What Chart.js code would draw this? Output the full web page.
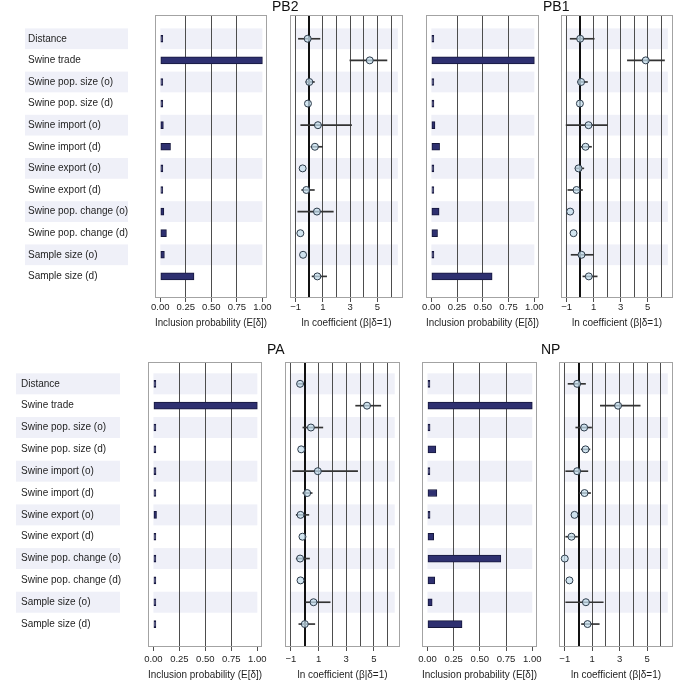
<!DOCTYPE html>
<html>
<head>
<meta charset="utf-8">
<title>Inclusion probabilities and coefficients</title>
<script src="https://cdn.jsdelivr.net/npm/chart.js@4.4.1/dist/chart.umd.min.js"></script>
<style>
    html, body { margin: 0; padding: 0; background: #fff; overflow: hidden; }
    #fig { position: relative; width: 685px; height: 681px; }
    #fig canvas { position: absolute; }
</style>
</head>
<body>
<div id="fig"></div>
<script>
// ---- data ----
const predictors = [
    'Distance', 'Swine trade', 'Swine pop. size (o)', 'Swine pop. size (d)',
    'Swine import (o)', 'Swine import (d)', 'Swine export (o)', 'Swine export (d)',
    'Swine pop. change (o)', 'Swine pop. change (d)', 'Sample size (o)', 'Sample size (d)'
];
const segments = ['PB2', 'PB1', 'PA', 'NP'];

const probTicks = [0, 0.25, 0.5, 0.75, 1];
const coefGrid = [-1, 0, 1, 2, 3, 4, 5, 6];
const coefLabels = [-1, 1, 3, 5];

// inclusion probability E[delta]
const pb2Prob = [0.02, 1.0, 0.01, 0.01, 0.03, 0.10, 0.025, 0.02, 0.035, 0.06, 0.04, 0.33];
const pb1Prob = [0.02, 1.0, 0.01, 0.025, 0.035, 0.08, 0.02, 0.01, 0.075, 0.06, 0.025, 0.59];
const paProb  = [0.015, 1.0, 0.02, 0.01, 0.025, 0.02, 0.03, 0.01, 0.015, 0.008, 0.02, 0.012];
const npProb  = [0.02, 1.0, 0.025, 0.08, 0.01, 0.09, 0.025, 0.06, 0.70, 0.07, 0.045, 0.33];

// ln coefficient (beta | delta = 1), mean and interval
const pb2Coef = [-0.12, 4.44, 0.0, -0.1, 0.63, 0.41, -0.49, -0.22, 0.56, -0.66, -0.46, 0.59];
const pb2Low  = [-0.8, 2.98, -0.25, null, -0.63, 0.12, null, -0.56, -0.85, null, null, 0.2];
const pb2High = [0.78, 5.7, 0.37, null, 3.1, 0.98, null, 0.37, 1.76, null, null, 1.27];

const pb1Coef = [0.0, 4.86, 0.07, -0.02, 0.62, 0.4, -0.12, -0.27, -0.74, -0.49, 0.1, 0.64];
const pb1Low  = [-0.74, 3.5, -0.17, null, -1.04, 0.0, -0.37, -0.91, null, null, -0.67, 0.2];
const pb1High = [1.04, 6.25, 0.54, null, 2.02, 0.84, 0.27, 0.17, null, null, 0.99, 1.26];

const paCoef = [-0.33, 4.5, 0.45, -0.25, 0.95, 0.18, -0.3, -0.16, -0.33, -0.3, 0.64, 0.01];
const paLow  = [-0.5, 3.68, -0.13, null, -0.86, -0.13, -0.61, null, -0.61, null, 0.0, -0.42];
const paHigh = [0.0, 5.49, 1.31, null, 3.82, 0.54, 0.3, null, 0.35, null, 1.84, 0.73];

const npCoef = [-0.1, 2.88, 0.41, 0.51, -0.1, 0.44, -0.29, -0.51, -1.0, -0.66, 0.54, 0.66];
const npLow  = [-0.76, 1.59, -0.2, 0.2, -0.93, 0.07, null, -0.93, null, null, -0.93, 0.22];
const npHigh = [0.51, 4.49, 0.95, 0.83, 0.68, 0.88, null, 0.0, null, null, 1.8, 1.51];

// ---- styling / layout ----
const BAR = '#2e3070';
const BAR_EDGE = '#16173c';
const BAND = '#eff0f8';
const GRID = '#4d4d4d';
const BOX = '#a3a3a3';
const TEXT = '#1e1e1e';
const CLEAR = 'rgba(0,0,0,0)';

Chart.defaults.font.family = "'Liberation Sans', Arial, Helvetica, sans-serif";

const rows = [
    { top: 0, boxTop: 15, boxBottom: 298, axisH: 31, tickPad: 0, yMin: -1.1, yMax: 12.0,
      textLeft: 28, labelBand: [25, 128] },
    { top: 343, boxTop: 362, boxBottom: 647, axisH: 34, tickPad: 3, yMin: -1.0, yMax: 12.05,
      textLeft: 21, labelBand: [16, 120] }
];

const panels = [
    { row: 0, labels: true,  prob: pb2Prob, coef: pb2Coef, low: pb2Low, high: pb2High, probBox: [155, 267], coefBox: [290, 403] },
    { row: 0, labels: false, prob: pb1Prob, coef: pb1Coef, low: pb1Low, high: pb1High, probBox: [426, 539], coefBox: [561, 673] },
    { row: 1, labels: true,  prob: paProb,  coef: paCoef,  low: paLow,  high: paHigh,  probBox: [148, 262], coefBox: [285, 400] },
    { row: 1, labels: false, prob: npProb,  coef: npCoef,  low: npLow,  high: npHigh,  probBox: [422, 537], coefBox: [559, 673] }
];

/**
 * Shaded row bands behind the data and the grey frame around each panel
 */
const panelDecor = {
    id: 'panelDecor',
    beforeDraw(chart, args, opts) {
        const { ctx, scales: { x, y } } = chart;
        ctx.save();
        ctx.fillStyle = BAND;
        for (let i = 0; i < predictors.length; i += 2) {
            const y0 = y.getPixelForValue(i - 0.48);
            const y1 = y.getPixelForValue(i + 0.48);
            const x0 = x.getPixelForValue(opts.bandFrom);
            const x1 = x.getPixelForValue(opts.bandTo);
            ctx.fillRect(x0, y0, x1 - x0, y1 - y0);
            if (opts.labelBand) {
                ctx.fillRect(opts.labelBand[0], y0, opts.labelBand[1] - opts.labelBand[0], y1 - y0);
            }
        }
        ctx.restore();
    },
    beforeDatasetsDraw(chart) {
        const { ctx, chartArea: a } = chart;
        ctx.save();
        ctx.strokeStyle = BOX;
        ctx.lineWidth = 1;
        ctx.strokeRect(Math.round(a.left) + 0.5, Math.round(a.top) + 0.5,
                       Math.round(a.right - a.left) - 1, Math.round(a.bottom - a.top) - 1);
        ctx.restore();
    }
};

function addCanvas(left, top, width, height) {
    const c = document.createElement('canvas');
    c.width = width;
    c.height = height;
    c.style.left = left + 'px';
    c.style.top = top + 'px';
    c.style.width = width + 'px';
    c.style.height = height + 'px';
    document.getElementById('fig').appendChild(c);
    return c;
}

function rowAxis(row, extra) {
    return Object.assign({
        type: 'linear',
        reverse: true,
        min: row.yMin,
        max: row.yMax,
        offset: false,
        afterBuildTicks: s => { s.ticks = predictors.map((_, i) => ({ value: i })); },
        grid: { display: false, drawTicks: false, offset: false },
        border: { display: false }
    }, extra);
}

/**
 * Inclusion probability bar panel
 */
function createProbChart(p) {
    const row = rows[p.row];
    const [bl, br] = p.probBox;
    const left = p.labels ? 0 : bl - 15;
    const width = br + 15 - left;
    const height = row.boxBottom - row.top + row.axisH;
    const canvas = addCanvas(left, row.top, width, height);

    new Chart(canvas, {
        type: 'bar',
        data: {
            datasets: [{
                data: p.prob.map((v, i) => ({ x: v, y: i })),
                backgroundColor: BAR,
                borderColor: BAR_EDGE,
                borderWidth: 1,
                borderSkipped: false,
                barThickness: 7,
                minBarLength: 2.5
            }]
        },
        options: {
            indexAxis: 'y',
            responsive: false,
            animation: false,
            events: [],
            layout: { padding: { top: row.boxTop - row.top, left: p.labels ? row.textLeft : 15, right: 15, bottom: 0 } },
            plugins: {
                legend: { display: false },
                tooltip: { enabled: false },
                panelDecor: { bandFrom: 0, bandTo: 1, labelBand: p.labels ? row.labelBand : null }
            },
            scales: {
                x: {
                    type: 'linear',
                    min: -0.052,
                    max: 1.045,
                    afterBuildTicks: s => { s.ticks = probTicks.map(v => ({ value: v })); },
                    afterFit: s => { s.height = row.axisH; },
                    grid: {
                        color: c => (c.tick && c.tick.value > 0 && c.tick.value < 1) ? GRID : CLEAR,
                        tickColor: GRID,
                        tickLength: 4,
                        lineWidth: 1
                    },
                    border: { display: false },
                    ticks: {
                        padding: row.tickPad,
                        autoSkip: false,
                        maxRotation: 0,
                        color: TEXT,
                        font: { size: 9.5 },
                        callback: v => Number(v).toFixed(2)
                    },
                    title: {
                        display: true,
                        text: 'Inclusion probability (E[δ])',
                        color: TEXT,
                        font: { size: 10 },
                        padding: { top: 0, bottom: 0 }
                    }
                },
                y: rowAxis(row, {
                    display: p.labels,
                    afterFit: s => { if (p.labels) s.width = bl - row.textLeft; },
                    ticks: {
                        crossAlign: 'far',
                        autoSkip: false,
                        color: TEXT,
                        font: { size: 10 },
                        callback: v => predictors[v]
                    }
                })
            }
        },
        plugins: [panelDecor]
    });
}

/**
 * ln coefficient panel: posterior mean with interval whiskers
 */
function createCoefChart(p, name) {
    const row = rows[p.row];
    const [bl, br] = p.coefBox;
    const left = bl - 30;
    const width = br - bl + 45;
    const height = row.boxBottom - row.top + row.axisH;
    const canvas = addCanvas(left, row.top, width, height);

    const whiskers = [];
    p.low.forEach((lo, i) => {
        if (lo !== null) whiskers.push({ x: [lo, p.high[i]], y: i });
    });

    new Chart(canvas, {
        type: 'bar',
        data: {
            datasets: [
                {
                    type: 'scatter',
                    order: 0,
                    data: p.coef.map((v, i) => ({ x: v, y: i })),
                    pointRadius: 3.5,
                    pointBackgroundColor: 'rgba(196,222,236,0.75)',
                    pointBorderColor: '#2d3b4a',
                    pointBorderWidth: 1
                },
                {
                    type: 'bar',
                    order: 1,
                    data: whiskers,
                    backgroundColor: '#333',
                    borderWidth: 0,
                    barThickness: 1
                }
            ]
        },
        options: {
            indexAxis: 'y',
            responsive: false,
            animation: false,
            events: [],
            layout: { padding: { top: 0, left: 12, right: 15, bottom: 0 } },
            plugins: {
                legend: { display: false },
                tooltip: { enabled: false },
                title: {
                    display: true,
                    text: name,
                    align: 'start',
                    color: '#111',
                    font: { size: 14, weight: 'normal', lineHeight: 1 },
                    padding: { top: 0, bottom: row.boxTop - row.top - 14 }
                },
                panelDecor: { bandFrom: -1.08, bandTo: 6.5 }
            },
            scales: {
                x: {
                    type: 'linear',
                    min: -1.42,
                    max: 6.88,
                    afterBuildTicks: s => { s.ticks = coefGrid.map(v => ({ value: v })); },
                    afterFit: s => { s.height = row.axisH; },
                    grid: {
                        color: c => (c.tick && c.tick.value === 0) ? '#111' : GRID,
                        lineWidth: c => (c.tick && c.tick.value === 0) ? 2 : 1,
                        tickColor: c => (c.tick && coefLabels.includes(c.tick.value)) ? GRID : CLEAR,
                        tickLength: 4
                    },
                    border: { display: false },
                    ticks: {
                        padding: row.tickPad,
                        autoSkip: false,
                        maxRotation: 0,
                        color: TEXT,
                        font: { size: 9.5 },
                        callback: v => coefLabels.includes(v) ? String(v).replace('-', '\u2212') : ''
                    },
                    title: {
                        display: true,
                        text: 'ln coefficient (β|δ=1)',
                        color: TEXT,
                        font: { size: 10 },
                        padding: { top: 0, bottom: 0 }
                    }
                },
                y: rowAxis(row, {
                    display: true,
                    afterFit: s => { s.width = 18; },
                    ticks: { display: false }
                })
            }
        },
        plugins: [panelDecor]
    });
}

panels.forEach((p, k) => {
    createProbChart(p);
    createCoefChart(p, segments[k]);
});
</script>
</body>
</html>
